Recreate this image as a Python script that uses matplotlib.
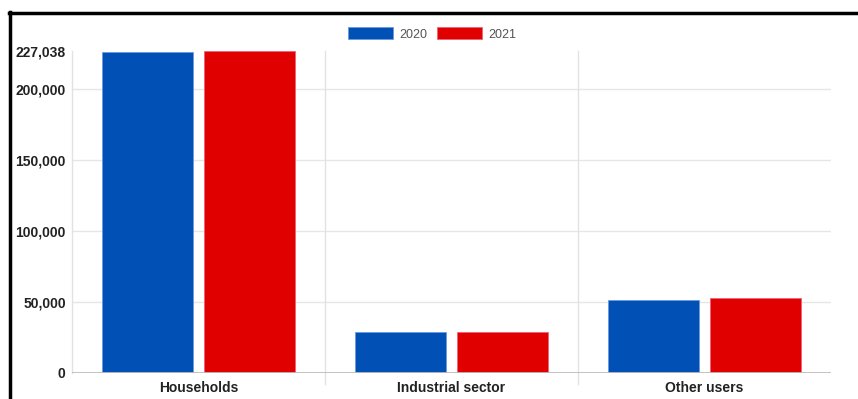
import matplotlib.pyplot as plt
import numpy as np
from matplotlib.patches import Rectangle
from matplotlib.lines import Line2D

plt.rcParams['font.family'] = ['Liberation Sans', 'DejaVu Sans']

categories = ["Households", "Industrial sector", "Other users"]
years = ["2020", "2021"]
values_2020 = [226000, 29100, 51200]
values_2021 = [227038, 28900, 52800]
y_ticks = [0, 50000, 100000, 150000, 200000, 227038]

blue = "#0050b5"
red = "#e00000"

W, H = 858, 399
fig = plt.figure(figsize=(W / 100, H / 100), dpi=100)
ax = fig.add_axes([72 / W, (H - 373) / H, 759 / W, (373 - 50.6) / H])

x = np.arange(len(categories))
ax.bar(x - 0.2, values_2020, width=0.36, color=blue, edgecolor="#6a9be0", linewidth=0.6, zorder=3)
ax.bar(x + 0.2, values_2021, width=0.36, color=red, edgecolor="#f0607a", linewidth=0.6, zorder=3)

ax.set_xlim(-0.5, 2.5)
ax.set_ylim(0, 227038)

ax.set_yticks(y_ticks)
ax.set_yticklabels([f"{v:,}" for v in y_ticks], fontsize=10, fontweight="bold", color="#222222")
ax.set_xticks(x)
ax.set_xticklabels(categories, fontsize=10, fontweight="bold", color="#222222")
ax.tick_params(axis="y", length=0, pad=4.5)
ax.tick_params(axis="x", length=0, pad=6)

for v in y_ticks[1:-1]:
    ax.axhline(v, color="#e6e6e6", linewidth=1, zorder=1)
for xv in [-0.5, 0.5, 1.5]:
    ax.axvline(xv, ymin=-0.035 if xv > 0 else 0, ymax=1, color="#e2e2e2",
               linewidth=1, zorder=1, clip_on=False)
ax.axhline(0, color="#bdbdbd", linewidth=2, zorder=4)

for s in ax.spines.values():
    s.set_visible(False)

handles = [Rectangle((0, 0), 1, 1, facecolor=blue, edgecolor="#6a9be0", linewidth=0.6),
           Rectangle((0, 0), 1, 1, facecolor=red, edgecolor="#f0607a", linewidth=0.6)]
fig.legend(handles, years, loc="center", bbox_to_anchor=(432 / W, 1 - 34 / H), ncol=2,
           frameon=False, fontsize=9, labelcolor="#555555", handlelength=3.6,
           handleheight=1.1, handletextpad=0.5, columnspacing=0.8)

# black frame on top and left
fig.add_artist(Line2D([9 / W, 1], [1 - 13 / H, 1 - 13 / H], color="black", linewidth=2.5,
                      transform=fig.transFigure))
fig.add_artist(Line2D([10 / W, 10 / W], [0, 1 - 12 / H], color="black", linewidth=2.5,
                      transform=fig.transFigure))

fig.savefig("out.png", dpi=100, facecolor="white")
